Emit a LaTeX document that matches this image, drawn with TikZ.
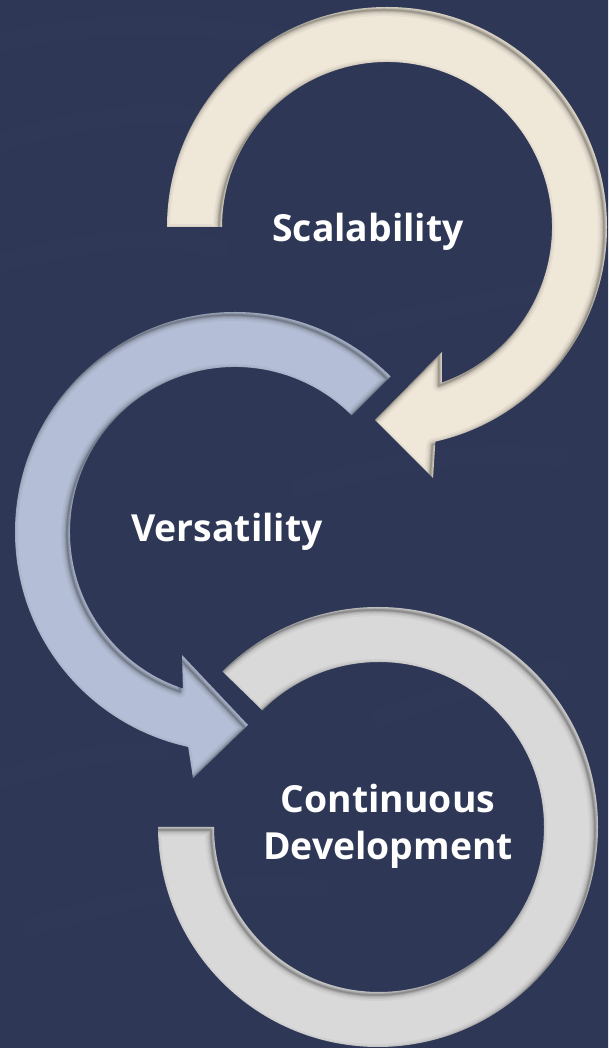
\documentclass[tikz,border=0pt]{standalone}
\usepackage{fontspec}
\setmainfont{Open Sans}
\definecolor{bgnavy}{HTML}{2E3755}
\definecolor{bgwave}{HTML}{323B5A}
\definecolor{creamc}{HTML}{EFE7D8}
\definecolor{bluec}{HTML}{B4BED6}
\definecolor{grayc}{HTML}{D9D9D9}
\newcommand\pathCream{(387,821) ++(180:220) arc[start angle=180,end angle=-77.3,radius=220] -- (433,570) -- (375,628) -- (442,696) -- ($(387,821)+(-70.6:165)$) arc[start angle=-70.6,end angle=180,radius=165] -- cycle}
\newcommand\pathBlue{(235,516) ++(45:220) arc[start angle=45,end angle=257.7,radius=220] -- (193,270) -- (248,323) -- (182,393) -- ($(235,516)+(251.6:165)$) arc[start angle=251.6,end angle=45,radius=165] -- cycle}
\newcommand\pathGray{(378,221) ++(135:220) arc[start angle=135,end angle=-180,radius=220] -- ++(56,0) arc[start angle=-180,end angle=135,radius=165] -- cycle}
\usetikzlibrary{calc}
\tikzset{
  labeltext/.style={text=white,font=\bfseries\fontsize{28}{35}\selectfont,align=center,inner sep=0pt},
  ishadow/.style={draw=black,line join=round}
}
\newcommand\innershadow[1]{%
  \begin{scope}
    \clip #1;
    \begin{scope}[shift={(-3,-3)}]
      \foreach \w/\o in {12/0.04,8/0.06,5/0.08,3/0.10,1.5/0.12}{
        \draw[ishadow,line width=\w*0.75pt,draw opacity=\o] #1;
      }
    \end{scope}
  \end{scope}}
\begin{document}
\begin{tikzpicture}[x=0.75pt,y=0.75pt]
  \useasboundingbox (0,0) rectangle (608,1048);
  \clip (0,0) rectangle (608,1048);
  \fill[bgnavy] (-5,-5) rectangle (613,1053);
  % faint background waves
  \begin{scope}[bgwave,line width=18*0.75pt,line cap=round,opacity=0.45]
    \draw (-20,1000) .. controls (120,1040) and (260,1020) .. (380,990);
    \draw (-20,900) .. controls (80,930) and (140,940) .. (200,930);
    \draw (-20,780) .. controls (60,800) and (140,820) .. (220,800);
    \draw (360,720) .. controls (450,740) and (540,760) .. (560,755);
    \draw (300,560) .. controls (400,590) and (500,600) .. (560,590);
    \draw (380,330) .. controls (460,360) and (540,380) .. (560,378);
    \draw (-20,260) .. controls (60,290) and (120,300) .. (160,295);
    \draw (30,120) .. controls (120,150) and (220,170) .. (320,160);
  \end{scope}
  % arrows
  \fill[creamc] \pathCream;
  \innershadow{\pathCream}
  \fill[bluec] \pathBlue;
  \innershadow{\pathBlue}
  \fill[grayc] \pathGray;
  \innershadow{\pathGray}
  % labels
  \node[labeltext,anchor=base] (scal) at (368,806) {Scalability};
  \node[labeltext,anchor=base] (vers) at (227,506) {Versatility};
  \node[labeltext,anchor=base] (cont) at (388,235) {Continuous};
  \node[labeltext,anchor=base] (devt) at (388,188) {Development};
\end{tikzpicture}
\end{document}
